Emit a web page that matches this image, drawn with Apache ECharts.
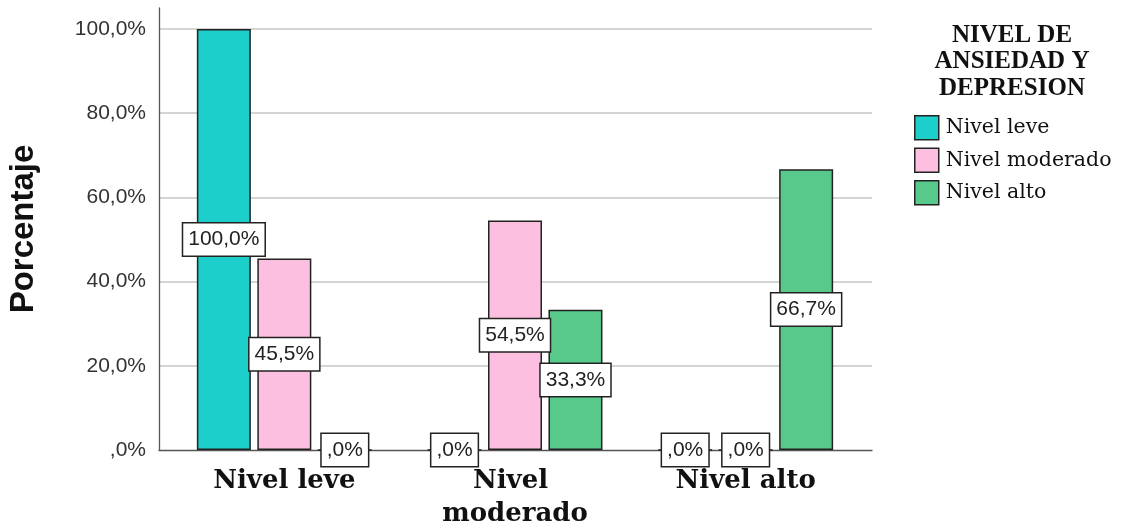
<!DOCTYPE html>
<html>
<head>
<meta charset="utf-8">
<script src="https://cdn.jsdelivr.net/npm/echarts@6/dist/echarts.min.js"></script>
<style>
  html, body { margin: 0; padding: 0; background: #ffffff; }
  #chart { width: 1123px; height: 527px; }
</style>
</head>
<body>
<div id="chart"></div>
<script>
// Groups along the x axis
const categories = ['Nivel leve', 'Nivel moderado', 'Nivel alto'];

// Series (legend entries) and their percentages per group
const seriesNames = ['Nivel leve', 'Nivel moderado', 'Nivel alto'];
const valuesLeve = [100.0, 0.0, 0.0];
const valuesModerado = [45.5, 54.5, 0.0];
const valuesAlto = [0.0, 33.3, 66.7];

const legendTitle = 'NIVEL DE\nANSIEDAD Y\nDEPRESION';
const yAxisTitle = 'Porcentaje';

const colors = ['#1ccfcb', '#fdbfdf', '#59c98b'];

// Percent with comma decimal, leading zero dropped (",0%")
function pct(v) {
  let s = Number(v).toFixed(1).replace('.', ',');
  if (s.startsWith('0,')) s = s.slice(1);
  return s + '%';
}

const chart = echarts.init(document.getElementById('chart'), null, { renderer: 'canvas' });

const yMin = 0, yMax = 105, yStep = 20;

const labelStyle = {
  show: true,
  position: 'inside',
  formatter: p => pct(p.value),
  fontFamily: 'Liberation Sans, Arial, sans-serif',
  fontSize: 21,
  color: '#222',
  backgroundColor: '#ffffff',
  borderColor: '#222',
  borderWidth: 1.5,
  padding: [6, 5, 5, 5]
};

const dataSets = [valuesLeve, valuesModerado, valuesAlto];

const option = {
  animation: false,
  backgroundColor: '#ffffff',
  title: {
    text: legendTitle,
    left: 1012,
    top: 22,
    padding: 0,
    textAlign: 'center',
    textStyle: {
      fontFamily: 'Liberation Serif, Times New Roman, serif',
      fontWeight: 'bold',
      fontSize: 25,
      lineHeight: 26.5,
      color: '#111'
    }
  },
  legend: {
    orient: 'vertical',
    left: 914,
    top: 115,
    padding: 0,
    itemWidth: 24,
    itemHeight: 24,
    itemGap: 7,
    icon: 'rect',
    data: seriesNames,
    textStyle: {
      fontFamily: 'DejaVu Serif, serif',
      fontSize: 20.5,
      color: '#111',
      padding: [0, 0, 0, 2]
    },
    itemStyle: { borderColor: '#222', borderWidth: 1.5 }
  },
  grid: [
    // frame: y axis, gridlines, baseline
    { left: 159, width: 713, top: 8, bottom: 77, containLabel: false, outerBoundsMode: 'none' },
    // bars
    { left: 169, width: 692, top: 8, bottom: 77, containLabel: false, outerBoundsMode: 'none' }
  ],
  xAxis: [
    {
      gridIndex: 0,
      type: 'category',
      data: [''],
      axisLine: { show: true, lineStyle: { color: '#555', width: 1.3 } },
      axisTick: { show: false },
      axisLabel: { show: false },
      splitLine: { show: false }
    },
    {
      gridIndex: 1,
      type: 'category',
      data: categories,
      axisLine: { show: false },
      axisTick: { show: false },
      axisLabel: {
        interval: 0,
        hideOverlap: false,
        margin: 15,
        fontFamily: 'DejaVu Serif, serif',
        fontWeight: 'bold',
        fontSize: 26,
        lineHeight: 33,
        color: '#111',
        width: 190,
        overflow: 'break'
      }
    }
  ],
  yAxis: [
    {
      gridIndex: 0,
      type: 'value',
      min: yMin,
      max: yMax,
      interval: yStep,
      name: yAxisTitle,
      nameLocation: 'middle',
      nameRotate: 90,
      nameGap: 119,
      nameTextStyle: {
        fontFamily: 'Liberation Sans, Arial, sans-serif',
        fontWeight: 'bold',
        fontSize: 33,
        color: '#111'
      },
      axisLine: { show: true, lineStyle: { color: '#555', width: 1.3 } },
      axisTick: { show: false },
      axisLabel: {
        margin: 13,
        formatter: v => pct(v),
        fontFamily: 'Liberation Sans, Arial, sans-serif',
        fontSize: 21,
        color: '#333',
        showMaxLabel: false
      },
      splitLine: {
        show: true,
        showMinLine: false,
        showMaxLine: false,
        lineStyle: { color: '#c6c6c6', width: 1.6 }
      }
    },
    {
      gridIndex: 1,
      type: 'value',
      min: yMin,
      max: yMax,
      interval: yStep,
      show: false,
      splitLine: { show: false }
    }
  ],
  series: seriesNames.map((name, i) => ({
    name: name,
    type: 'bar',
    xAxisIndex: 1,
    yAxisIndex: 1,
    data: dataSets[i],
    barWidth: 54,
    barGap: '12%',
    itemStyle: {
      color: colors[i],
      borderColor: '#222',
      borderWidth: 1.5
    },
    label: labelStyle,
    labelLayout: { hideOverlap: false },
    z: 3
  })),
  color: colors
};

chart.setOption(option);
</script>
</body>
</html>
